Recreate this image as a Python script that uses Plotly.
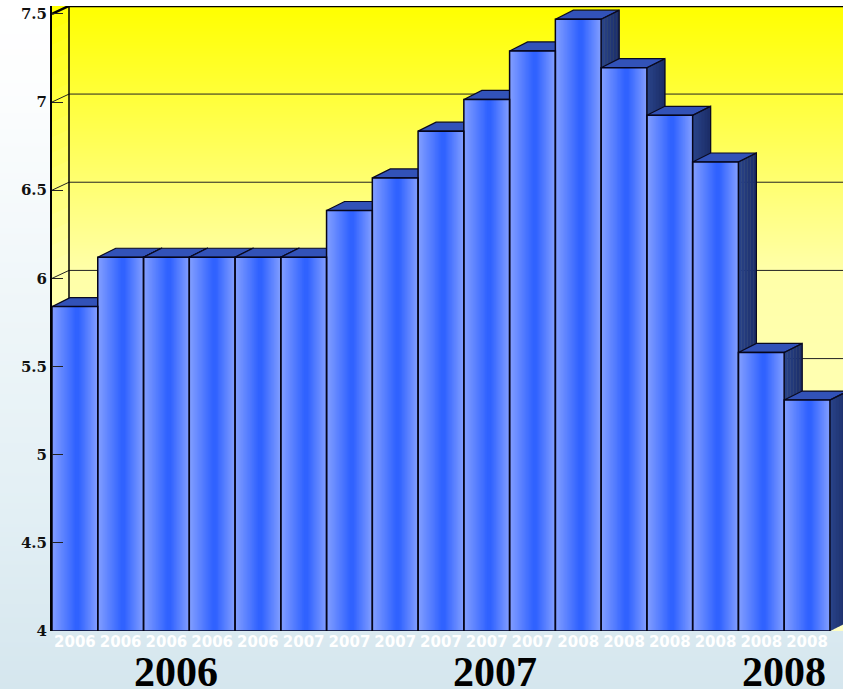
import plotly.graph_objects as go

year_labels = ["2006"]*5 + ["2007"]*6 + ["2008"]*6
values = [5.84, 6.12, 6.12, 6.12, 6.12, 6.12, 6.385, 6.57, 6.835, 7.015, 7.29, 7.47, 7.195, 6.925, 6.66, 5.58, 5.31]
y_ticks = [4, 4.5, 5, 5.5, 6, 6.5, 7, 7.5]
y_tick_text = ["4", "4.5", "5", "5.5", "6", "6.5", "7", "7.5"]
group_labels = ["2006", "2007", "2008"]
group_pos = [2.2, 9.18, 15.5]

W, H = 843, 689
LAYOUT_H = 698
BAR_PX = 45.76
UNIT_PX = 176.6
L, B, T = 52, 58, 5
x_range = [-0.5, -0.5 + (W - L) / BAR_PX]
y_range = [4, 4 + (H - B - T) / UNIT_PX]
WALL_DX, WALL_DY = 17 / BAR_PX, 8 / UNIT_PX
BAR_DX, BAR_DY = 18 / BAR_PX, 9 / UNIT_PX
X0 = x_range[0]
WALL_KNOT = 0.58


def mix(a, b, t):
    return "rgb(%d,%d,%d)" % tuple(round(a[i] + (b[i] - a[i]) * t) for i in range(3))


def wall_color(t):
    # t: 0 at the floor, 1 at the top of the wall
    if t < WALL_KNOT:
        return mix((255, 255, 195), (255, 255, 168), t / WALL_KNOT)
    return mix((255, 255, 168), (255, 255, 0), (t - WALL_KNOT) / (1 - WALL_KNOT))


fig = go.Figure()

# page background
fig.add_trace(go.Heatmap(x=[0, 1], y=[0, 0.25, 0.9, 1], z=[[0, 0], [0.55, 0.55], [0.97, 0.97], [1, 1]], zmin=0, zmax=1,
                         zsmooth="best", showscale=False, hoverinfo="skip",
                         colorscale=[[0, "#d5e6ee"], [0.55, "#e2eff4"], [1, "#ffffff"]],
                         xaxis="x", yaxis="y"))

# back wall
wall_x0 = X0 + WALL_DX
fig.add_trace(go.Heatmap(x=[wall_x0, x_range[1]], y=[4, y_range[1]], z=[[0, 0], [1, 1]], zmin=0, zmax=1,
                         zsmooth="best", showscale=False, hoverinfo="skip",
                         colorscale=[[0, wall_color(0)], [WALL_KNOT, wall_color(WALL_KNOT)], [1, wall_color(1)]],
                         xaxis="x2", yaxis="y2"))

# left side wall, in bands
n_bands = 40
top_val = y_ticks[-1]
for b in range(n_bands):
    v0 = 4 + (top_val - 4) * b / n_bands
    v1 = 4 + (top_val - 4) * (b + 1) / n_bands + 0.002
    t = (v0 - 4) / (top_val - 4)
    fig.add_trace(go.Scatter(x=[X0, wall_x0, wall_x0, X0, X0],
                             y=[v0, v0 + WALL_DY, v1 + WALL_DY, v1, v0],
                             mode="lines", fill="toself", fillcolor=wall_color(t), line=dict(width=0),
                             hoverinfo="skip", xaxis="x2", yaxis="y2"))

# gridlines on the wall and diagonals on the side wall
for v in y_ticks[:-1]:
    fig.add_trace(go.Scatter(x=[X0, wall_x0, x_range[1]], y=[v, v + WALL_DY, v + WALL_DY], mode="lines",
                             line=dict(color="#222222", width=1), hoverinfo="skip", xaxis="x2", yaxis="y2"))
fig.add_trace(go.Scatter(x=[X0, wall_x0, x_range[1]], y=[top_val, top_val + WALL_DY, top_val + WALL_DY],
                         mode="lines", line=dict(color="#000000", width=2.5), cliponaxis=False,
                         hoverinfo="skip", xaxis="x2", yaxis="y2"))
fig.add_trace(go.Scatter(x=[wall_x0, wall_x0], y=[4, top_val + WALL_DY], mode="lines",
                         line=dict(color="#000000", width=1.5), hoverinfo="skip", xaxis="x2", yaxis="y2"))

# side and top faces, painted left to right
n_side = 6
for i, v in enumerate(values):
    r = i + 0.5
    for k in range(n_side):
        a = r + BAR_DX * k / n_side
        b = r + BAR_DX * (k + 1.15) / n_side
        ya = BAR_DY * k / n_side
        yb = BAR_DY * (k + 1) / n_side
        fig.add_trace(go.Scatter(x=[a, b, b, a, a], y=[4 + ya, 4 + yb, v + yb, v + ya, 4 + ya],
                                 mode="lines", fill="toself", line=dict(width=0),
                                 fillcolor=mix((40, 66, 135), (28, 46, 105), k / (n_side - 1)),
                                 hoverinfo="skip", xaxis="x2", yaxis="y2"))
    fig.add_trace(go.Scatter(x=[i - 0.5, r, r + BAR_DX, i - 0.5 + BAR_DX, i - 0.5],
                             y=[v, v, v + BAR_DY, v + BAR_DY, v], mode="lines", fill="toself",
                             fillcolor="#3252b8", line=dict(color="#0a0a20", width=1.2),
                             hoverinfo="skip", xaxis="x2", yaxis="y2"))
    fig.add_trace(go.Scatter(x=[r, r + BAR_DX, r + BAR_DX], y=[v, v + BAR_DY, 4 + BAR_DY], mode="lines",
                             line=dict(color="#0a0a20", width=1.2), hoverinfo="skip", xaxis="x2", yaxis="y2"))

# front faces as nested bars, light outside to saturated inside
n_levels = 23
indices = list(range(len(values)))
for k in range(n_levels):
    t = k / (n_levels - 1)
    fig.add_trace(go.Bar(x=[i + 0.05 * t for i in indices], y=[v - 4 for v in values], base=4,
                         width=1 - 0.92 * t,
                         marker=dict(color=mix((130, 158, 255), (48, 98, 255), t), line=dict(width=0)),
                         hoverinfo="skip", xaxis="x3", yaxis="y3"))

# front outlines
ox, oy = [], []
for i, v in enumerate(values):
    ox += [i - 0.5, i - 0.5, i + 0.5, i + 0.5, None]
    oy += [4, v, v, 4, None]
ox += [-0.5, len(values) - 0.5]
oy += [4, 4]
fig.add_trace(go.Scatter(x=ox, y=oy, mode="lines", line=dict(color="#05051a", width=1.5), cliponaxis=False,
                         hoverinfo="skip", xaxis="x3", yaxis="y3"))

ann = [dict(x=p, y=17 / H, xref="x3", yref="paper", text="<b>%s</b>" % s, showarrow=False,
            font=dict(family="Liberation Serif", size=42, color="#000000"), xanchor="center", yanchor="middle")
       for s, p in zip(group_labels, group_pos)]

dom_x = [L / W, 1]
dom_y = [B / H, 1 - T / H]
hidden = dict(visible=False, showgrid=False, zeroline=False, fixedrange=True)
fig.update_layout(
    width=W, height=LAYOUT_H, autosize=False, margin=dict(l=0, r=0, t=0, b=0), showlegend=False, barmode="overlay",
    paper_bgcolor="#ffffff", plot_bgcolor="rgba(0,0,0,0)", annotations=ann,
    xaxis=dict(hidden, domain=[0, 1], range=[0, 1]),
    yaxis=dict(hidden, domain=[0, 1], range=[0, 1]),
    xaxis2=dict(domain=dom_x, range=x_range, anchor="y2", showgrid=False, zeroline=False, showline=False,
                tickmode="array", tickvals=indices, ticktext=year_labels, tickangle=0, ticks="",
                tickfont=dict(family="DejaVu Sans", size=15, color="#ffffff", weight=700)),
    yaxis2=dict(domain=dom_y, range=y_range, anchor="x2", showgrid=False, zeroline=False, showline=True,
                linecolor="#000000", linewidth=2, tickmode="array", tickvals=y_ticks, ticktext=y_tick_text,
                ticks="inside", ticklen=11, tickcolor="#222222", tickwidth=1,
                tickfont=dict(family="DejaVu Serif", size=15, color="#111111", weight=700)),
    xaxis3=dict(hidden, range=x_range, overlaying="x2", anchor="y3"),
    yaxis3=dict(hidden, range=y_range, overlaying="y2", anchor="x3"),
)
fig.write_html("out.html", config=dict(displayModeBar=False),
               post_script="document.body.style.margin='0';document.documentElement.style.overflow='hidden';")
